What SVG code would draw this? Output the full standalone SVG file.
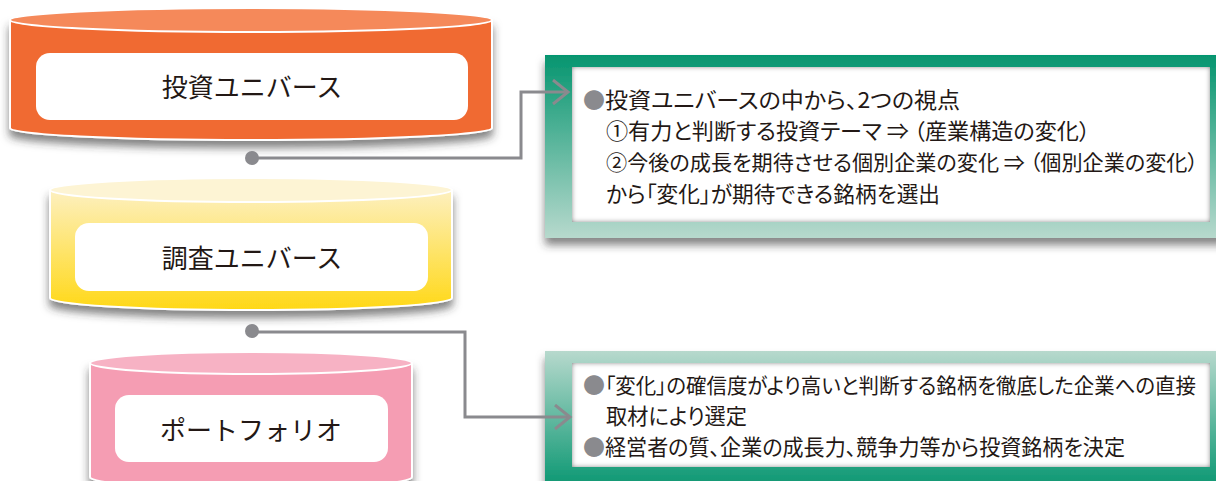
<svg xmlns="http://www.w3.org/2000/svg" width="1216" height="481" viewBox="0 0 1216 481">
<defs>
<style>
.lbl{font-family:"Noto Sans CJK JP","Noto Sans",sans-serif;font-size:26px;fill:#231815;text-anchor:middle}
.txt{font-family:"Noto Sans CJK JP","Noto Sans",sans-serif;font-size:22px;fill:#231815;font-feature-settings:"palt"}
.sm{font-size:21px}
.bul{font-family:"Noto Sans CJK JP","Noto Sans",sans-serif;font-size:22px;fill:#8a8a8e}
.conn{fill:none;stroke:#8a8a8e;stroke-width:3}
.cyl{stroke:#fff;stroke-width:2}
.inner{fill:#fff}
</style>
<filter id="sh" x="-10%" y="-20%" width="120%" height="160%">
<feDropShadow dx="0" dy="7" stdDeviation="4" flood-color="#333" flood-opacity="0.6"/>
</filter>
<filter id="inset" x="-5%" y="-5%" width="110%" height="110%">
<feFlood flood-color="#666" result="f"/>
<feComposite in="f" in2="SourceAlpha" operator="out" result="o"/>
<feGaussianBlur in="o" stdDeviation="2.5" result="b"/>
<feComposite in="b" in2="SourceAlpha" operator="in" result="i"/>
<feMerge><feMergeNode in="SourceGraphic"/><feMergeNode in="i"/></feMerge>
</filter>
<linearGradient id="gYel" x1="0" y1="0" x2="0" y2="1">
<stop offset="0" stop-color="#fdf0c0"/>
<stop offset="1" stop-color="#ffd816"/>
</linearGradient>
<linearGradient id="gG1" x1="0" y1="0" x2="0" y2="1">
<stop offset="0" stop-color="#05956f"/>
<stop offset="1" stop-color="#b7d9cd"/>
</linearGradient>
<linearGradient id="gG2" x1="0" y1="0" x2="0" y2="1">
<stop offset="0" stop-color="#b7d9cd"/>
<stop offset="1" stop-color="#05956f"/>
</linearGradient>
<marker id="arr" markerWidth="20" markerHeight="30" refX="16" refY="13" orient="auto" markerUnits="userSpaceOnUse">
<path d="M1,1 L16,13 L1,25" fill="none" stroke="#8a8a8e" stroke-width="3"/>
</marker>
</defs>

<g id="node-invest">
<path class="cyl" filter="url(#sh)" d="M10,20 L10,128 A241,12 0 0 0 492,128 L492,20 Z" fill="#f06a33"/>
<ellipse class="cyl" cx="251" cy="20" rx="241" ry="12" fill="#f5895a"/>
<rect class="inner" x="36" y="53" width="432" height="67" rx="14"/>
<text class="lbl" x="252" y="97">投資ユニバース</text>
</g>

<g id="node-research">
<path class="cyl" filter="url(#sh)" d="M50,190 L50,298 A201,12 0 0 0 452,298 L452,190 Z" fill="url(#gYel)"/>
<ellipse class="cyl" cx="251" cy="190" rx="201" ry="12" fill="#fdf4d4"/>
<rect class="inner" x="75" y="223" width="353" height="68" rx="14"/>
<text class="lbl" x="252" y="268">調査ユニバース</text>
</g>

<g id="node-portfolio">
<path class="cyl" filter="url(#sh)" d="M90,363 L90,477 A161,12 0 0 0 412,477 L412,363 Z" fill="#f59db3"/>
<ellipse class="cyl" cx="251" cy="363" rx="161" ry="11" fill="#f7b2c4"/>
<rect class="inner" x="115" y="395" width="273" height="67" rx="14"/>
<text class="lbl" x="251" y="440">ポートフォリオ</text>
</g>

<g id="node-box1">
<rect x="545" y="55" width="680" height="183" fill="url(#gG1)" filter="url(#sh)"/>
<rect x="572" y="67" width="638" height="155" fill="#fff" filter="url(#inset)"/>
<text class="bul" x="583" y="108">●</text>
<text class="txt" x="605" y="108" textLength="355" lengthAdjust="spacingAndGlyphs">投資ユニバースの中から、2つの視点</text>
<text class="txt" x="606" y="139" textLength="484" lengthAdjust="spacingAndGlyphs">①有力と判断する投資テーマ ⇒ （産業構造の変化）</text>
<text class="txt sm" x="606" y="170" textLength="592" lengthAdjust="spacingAndGlyphs">②今後の成長を期待させる個別企業の変化 ⇒ （個別企業の変化）</text>
<text class="txt" x="606" y="202" textLength="334" lengthAdjust="spacingAndGlyphs">から「変化」が期待できる銘柄を選出</text>
</g>

<g id="node-box2">
<rect x="545" y="351" width="680" height="140" fill="url(#gG2)" filter="url(#sh)"/>
<rect x="572" y="363" width="638" height="104" fill="#fff" filter="url(#inset)"/>
<text class="bul" x="583" y="393">●</text>
<text class="txt sm" x="605" y="393" textLength="591" lengthAdjust="spacingAndGlyphs">「変化」の確信度がより高いと判断する銘柄を徹底した企業への直接</text>
<text class="txt" x="606" y="424" textLength="141" lengthAdjust="spacingAndGlyphs">取材により選定</text>
<text class="bul" x="583" y="455">●</text>
<text class="txt" x="605" y="455" textLength="520" lengthAdjust="spacingAndGlyphs">経営者の質、企業の成長力、競争力等から投資銘柄を決定</text>
</g>

<g id="connectors">
<circle cx="252" cy="158" r="7" fill="#8a8a8e"/>
<path class="conn" d="M252,158 H521 V92 H568" marker-end="url(#arr)"/>
<circle cx="252" cy="331" r="7" fill="#8a8a8e"/>
<path class="conn" d="M252,332 H465 V417 H570" marker-end="url(#arr)"/>
</g>
</svg>
